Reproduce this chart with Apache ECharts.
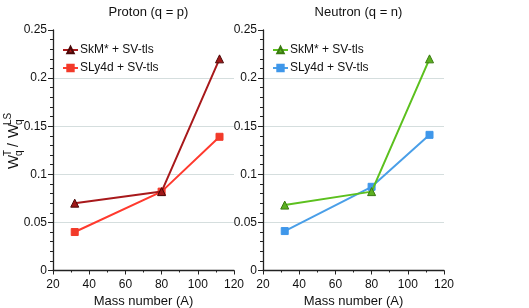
<!DOCTYPE html>
<html>
<head>
<meta charset="utf-8">
<script src="https://cdn.jsdelivr.net/npm/echarts@6/dist/echarts.min.js"></script>
<style>html,body{margin:0;padding:0;background:#fff}#c{width:529px;height:308px}</style>
</head>
<body>
<div id="c"></div>
<script>
const massNumbers = [32, 80, 112];
const protonSkM = [0.070, 0.082, 0.220];
const protonSLy = [0.040, 0.082, 0.139];
const neutronSkM = [0.068, 0.082, 0.220];
const neutronSLy = [0.041, 0.087, 0.141];
const titles = ['Proton (q = p)', 'Neutron (q = n)'];
const seriesLabels = ['SkM* + SV-tls', 'SLy4d + SV-tls'];
const xLabel = 'Mass number (A)';

const pairs = v => massNumbers.map((m, i) => [m, v[i]]);
const FONT = 'Liberation Sans, Arial, sans-serif';
const labelMap = {pSkM: seriesLabels[0], pSLy: seriesLabels[1], nSkM: seriesLabels[0], nSLy: seriesLabels[1]};

function xAxis(idx) {
  return {
    type: 'value', gridIndex: idx, min: 20, max: 120, interval: 20,
    name: xLabel, nameLocation: 'middle', nameGap: 23,
    nameTextStyle: {fontFamily: FONT, fontSize: 13, color: '#111'},
    axisLine: {show: true, lineStyle: {color: '#222', width: 1.3}},
    axisTick: {show: true, length: 4, lineStyle: {color: '#222'}},
    minorTick: {show: true, splitNumber: 2, length: 2, lineStyle: {color: '#222'}},
    axisLabel: {fontFamily: FONT, fontSize: 12, color: '#111', margin: 8},
    splitLine: {show: false}
  };
}
function yAxis(idx) {
  return {
    type: 'value', gridIndex: idx, min: 0, max: 0.25, interval: 0.05,
    axisLine: {show: true, lineStyle: {color: '#222', width: 1.3}},
    axisTick: {show: true, length: 5, lineStyle: {color: '#222'}},
    minorTick: {show: true, splitNumber: 5, length: 3, lineStyle: {color: '#222', width: 1}},
    axisLabel: {fontFamily: FONT, fontSize: 12, color: '#111', margin: 6,
      formatter: v => String(Math.round(v * 100) / 100)},
    splitLine: {show: true, showMinLine: false, showMaxLine: false, lineStyle: {color: '#d5dede', width: 1}}
  };
}
function ser(name, idx, data, color, symbol, mcolor, bcolor, size) {
  return {
    name, type: 'line', xAxisIndex: idx, yAxisIndex: idx, data: pairs(data),
    symbol, symbolSize: size,
    lineStyle: {color, width: 2},
    itemStyle: {color: mcolor, borderColor: bcolor, borderWidth: 1},
    emphasis: {disabled: true}, z: name.endsWith('SkM') ? 3 : 2
  };
}
function legend(left, names) {
  return {
    left, top: 39, orient: 'vertical', itemGap: 6, itemWidth: 15, itemHeight: 8,
    data: names, formatter: n => labelMap[n],
    textStyle: {fontFamily: FONT, fontSize: 12, color: '#111', padding: [0, 0, 0, -3]}
  };
}

const chart = echarts.init(document.getElementById('c'), null, {renderer: 'canvas'});
chart.setOption({
  animation: false,
  backgroundColor: '#fff',
  title: [
    {text: titles[0], left: 143.5, top: 1, textAlign: 'center', textStyle: {fontFamily: FONT, fontSize: 13, fontWeight: 'normal', color: '#111'}},
    {text: titles[1], left: 353.5, top: 1, textAlign: 'center', textStyle: {fontFamily: FONT, fontSize: 13, fontWeight: 'normal', color: '#111'}}
  ],
  grid: [
    {left: 53, right: 295, top: 30, bottom: 37.5, containLabel: false, outerBoundsMode: 'none'},
    {left: 263, right: 85, top: 30, bottom: 37.5, containLabel: false, outerBoundsMode: 'none'}
  ],
  xAxis: [xAxis(0), xAxis(1)],
  yAxis: [yAxis(0), yAxis(1)],
  legend: [legend(57, ['pSkM', 'pSLy']), legend(267, ['nSkM', 'nSLy'])],
  series: [
    ser('pSkM', 0, protonSkM, '#a8191b', 'triangle', '#a01818', '#4a0808', 8),
    ser('pSLy', 0, protonSLy, '#ff3a2e', 'rect', '#f23a2a', '#f23a2a', 7),
    ser('nSkM', 1, neutronSkM, '#5cc01e', 'triangle', '#5cb020', '#3a7a10', 8),
    ser('nSLy', 1, neutronSLy, '#4a9fe8', 'rect', '#3f97ea', '#3f97ea', 7)
  ],
  graphic: [{
    type: 'group', x: 14, y: 136, rotation: Math.PI / 2,
    children: [
      {type: 'text', x: -33, y: 0, style: {text: 'W', fontFamily: FONT, fontSize: 15, fill: '#111', verticalAlign: 'middle'}},
      {type: 'text', x: -20, y: -6, style: {text: 'T', fontFamily: FONT, fontSize: 10, fill: '#111', verticalAlign: 'middle'}},
      {type: 'text', x: -20, y: 5, style: {text: 'q', fontFamily: FONT, fontSize: 10, fill: '#111', verticalAlign: 'middle'}},
      {type: 'text', x: -11, y: 0, style: {text: '/', fontFamily: FONT, fontSize: 14, fill: '#111', verticalAlign: 'middle'}},
      {type: 'text', x: -2, y: 0, style: {text: 'W', fontFamily: FONT, fontSize: 15, fill: '#111', verticalAlign: 'middle'}},
      {type: 'text', x: 11, y: -6, style: {text: 'LS', fontFamily: FONT, fontSize: 10, fill: '#111', verticalAlign: 'middle'}},
      {type: 'text', x: 11, y: 5, style: {text: 'q', fontFamily: FONT, fontSize: 10, fill: '#111', verticalAlign: 'middle'}}
    ]
  }]
});
</script>
</body>
</html>
